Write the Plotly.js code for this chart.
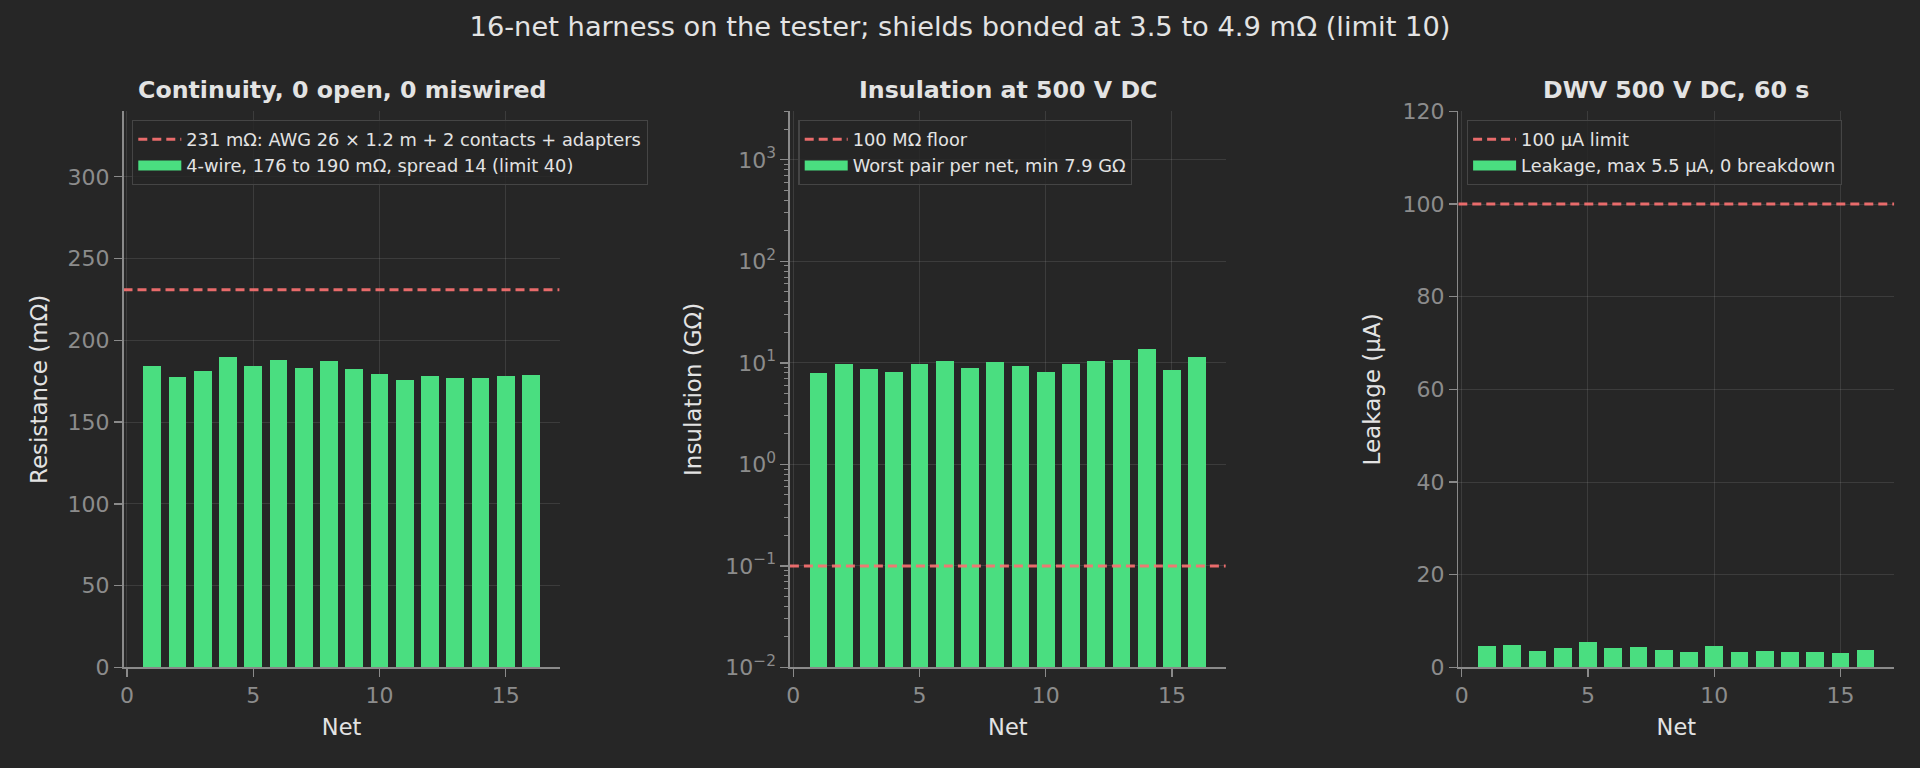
<!DOCTYPE html>
<html>
<head>
<meta charset="utf-8">
<script src="https://cdn.plot.ly/plotly-3.0.1.min.js"></script>
<style>
html,body{margin:0;padding:0;background:#262626;}
#chart{width:1920px;height:768px;}
</style>
</head>
<body>
<div id="chart"></div>
<script>
// ---- data ----
const nets = [1,2,3,4,5,6,7,8,9,10,11,12,13,14,15,16];
const resistance_mOhm = [184.5,177.5,181.5,190,184.5,188,183,187.5,182.5,179.5,176,178,177,177,178,179];
const insulation_GOhm = [7.9,9.7,8.7,8.1,9.7,10.4,8.9,10.2,9.3,8.1,9.7,10.4,10.7,13.6,8.5,11.4];
const leakage_uA = [4.6,4.8,3.5,4.1,5.5,4.1,4.4,3.7,3.3,4.6,3.3,3.5,3.3,3.3,3.1,3.7];
const resistanceLimit = 231;
const insulationFloor = 0.1;
const leakageLimit = 100;
const netRange = [-0.135, 17.135];
const logTickVals = [0.01,0.1,1,10,100,1000];
const logTickText = ['10<sup>\u22122</sup>','10<sup>\u22121</sup>','10<sup>0</sup>','10<sup>1</sup>','10<sup>2</sup>','10<sup>3</sup>'];
const logMinorTickVals = [0.02,0.03,0.04,0.05,0.06,0.07,0.08,0.09,
  0.2,0.3,0.4,0.5,0.6,0.7,0.8,0.9,
  2,3,4,5,6,7,8,9,
  20,30,40,50,60,70,80,90,
  200,300,400,500,600,700,800,900,
  2000,3000];

const supTitle = '16-net harness on the tester; shields bonded at 3.5 to 4.9 m\u03a9 (limit 10)';
const panelTitles = ['Continuity, 0 open, 0 miswired','Insulation at 500 V DC','DWV 500 V DC, 60 s'];
const yTitles = ['Resistance (m\u03a9)','Insulation (G\u03a9)','Leakage (\u03bcA)'];
const limitNames = ['231 m\u03a9: AWG 26 \u00d7 1.2 m + 2 contacts + adapters','100 M\u03a9 floor','100 \u03bcA limit'];
const barNames = ['4-wire, 176 to 190 m\u03a9, spread 14 (limit 40)','Worst pair per net, min 7.9 G\u03a9','Leakage, max 5.5 \u03bcA, 0 breakdown'];

// ---- styling ----
const W = 1920, H = 768;
const BG = '#262626';
const GREEN = '#4ade80';
const RED = 'rgba(248,113,113,0.92)';
const GRID = 'rgba(255,255,255,0.10)';
const SPINE = '#8a8a8a';
const TICKC = '#8c8c8c';
const TEXTC = '#e3e3e3';
const FONT = 'DejaVu Sans, sans-serif';

const xDomains = [[123.5/W, 559.6/W],[789.9/W, 1225.8/W],[1458.3/W, 1894.3/W]];
const yDomain = [1-667.4/H, 1-111.4/H];
const yStandoff = [13, 16.5, 15];

const values = [resistance_mOhm, insulation_GOhm, leakage_uA];
const limits = [resistanceLimit, insulationFloor, leakageLimit];

const traces = [];
for (let i=0;i<3;i++){
  const sfx = i===0 ? '' : String(i+1);
  const xa = 'x'+sfx, ya = 'y'+sfx, lg = 'legend'+sfx;
  traces.push({type:'bar', x:nets, y:values[i], width:0.7, marker:{color:GREEN, line:{width:0}},
    xaxis:xa, yaxis:ya, showlegend:false, hoverinfo:'x+y'});
  traces.push({type:'scatter', mode:'lines', x:netRange, y:[limits[i],limits[i]],
    line:{color:RED, width:3, dash:'9px,5px'}, name:limitNames[i], xaxis:xa, yaxis:ya,
    legend:lg, legendrank:1, showlegend:true});
  traces.push({type:'scatter', mode:'lines', x:[null], y:[null],
    line:{color:GREEN, width:11}, name:barNames[i], xaxis:xa, yaxis:ya,
    legend:lg, legendrank:2, showlegend:true});
}

function xAxis(i){
  return {domain:xDomains[i], range:netRange, anchor: i===0?'y':'y'+(i+1),
    tickmode:'linear', tick0:0, dtick:5, ticks:'outside', ticklen:8, tickwidth:1.3, tickcolor:SPINE,
    showline:true, linecolor:SPINE, linewidth:1.5, showgrid:true, gridcolor:GRID, gridwidth:1,
    zeroline:false, tickfont:{family:FONT,size:22,color:TICKC},
    title:{text:'Net', font:{family:FONT,size:22.5,color:TEXTC}, standoff:12},
    automargin:false, fixedrange:true};
}
function yAxisBase(i){
  return {domain:yDomain, anchor: i===0?'x':'x'+(i+1),
    ticks:'outside', ticklen:8, tickwidth:1.3, tickcolor:SPINE,
    showline:true, linecolor:SPINE, linewidth:1.5, showgrid:true, gridcolor:GRID, gridwidth:1,
    zeroline:false, tickfont:{family:FONT,size:22,color:TICKC},
    title:{text:yTitles[i], font:{family:FONT,size:23,color:TEXTC}, standoff:yStandoff[i]},
    automargin:false, fixedrange:true};
}

const y1 = Object.assign(yAxisBase(0), {range:[0,340], tickmode:'linear', tick0:0, dtick:50});
const y2 = Object.assign(yAxisBase(1), {type:'log', range:[-2, Math.log10(3000)],
  tickmode:'array', tickvals:logTickVals, ticktext:logTickText,
  minor:{tickmode:'array', tickvals:logMinorTickVals, ticks:'outside', ticklen:4, tickwidth:1, tickcolor:SPINE, showgrid:false}});
const y3 = Object.assign(yAxisBase(2), {range:[0,120], tickmode:'linear', tick0:0, dtick:20});

function legendCfg(i){
  return {x:(xDomains[i][0]*W+8.5)/W, y:1-120/H, xanchor:'left', yanchor:'top',
    bgcolor:'rgba(38,38,38,0.85)', bordercolor:'#454545', borderwidth:1.3,
    font:{family:FONT,size:17.8,color:TEXTC}, traceorder:'normal', tracegroupgap:0,
    itemwidth:43};
}

const annotations = panelTitles.map((t,i)=>({text:'<b>'+t+'</b>', xref:'paper', yref:'paper',
  x:(xDomains[i][0]+xDomains[i][1])/2, y:1-90.5/H, xanchor:'center', yanchor:'middle',
  showarrow:false, font:{family:FONT,size:23.7,color:TEXTC}}));

const layout = {
  width:W, height:H, paper_bgcolor:BG, plot_bgcolor:BG,
  margin:{l:0,r:0,t:0,b:0},
  font:{family:FONT,color:TEXTC},
  title:{text:supTitle, x:0.5, xanchor:'center', y:1-26/H, yanchor:'middle', font:{family:FONT,size:27.3,color:TEXTC}},
  xaxis:xAxis(0), xaxis2:xAxis(1), xaxis3:xAxis(2),
  yaxis:y1, yaxis2:y2, yaxis3:y3,
  legend:legendCfg(0), legend2:legendCfg(1), legend3:legendCfg(2),
  annotations:annotations, bargap:0, showlegend:true
};

Plotly.newPlot('chart', traces, layout, {displayModeBar:false, staticPlot:true});
</script>
</body>
</html>
